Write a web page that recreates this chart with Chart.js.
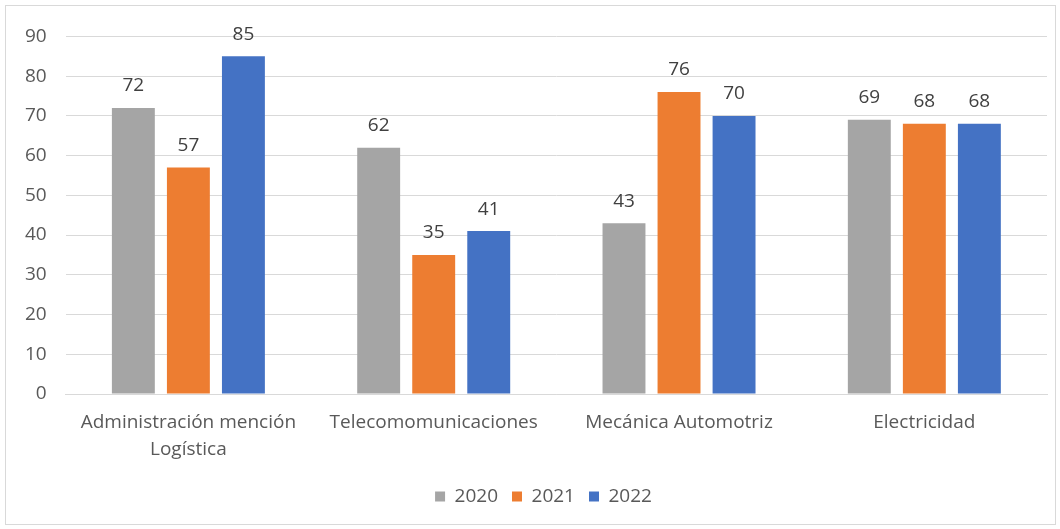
<!DOCTYPE html>
<html>
<head>
<meta charset="utf-8">
<script src="https://cdn.jsdelivr.net/npm/chart.js@4"></script>
<style>
  body { margin: 0; background: #fff; }
  #box { position: absolute; left: 5px; top: 5px; width: 1049px; height: 518px; border: 1px solid #d9d9d9; }
  #myChart { display: block; }
</style>
</head>
<body>
<div id="box"><canvas id="myChart" width="1049" height="518"></canvas></div>
<script>
const categories = [["Administración mención", "Logística"], "Telecomomunicaciones", "Mecánica Automotriz", "Electricidad"];
const values2020 = [72, 62, 43, 69];
const values2021 = [57, 35, 76, 68];
const values2022 = [85, 41, 70, 68];
const yTicks = [0, 10, 20, 30, 40, 50, 60, 70, 80, 90];

Chart.defaults.font.family = "'Open Sans', 'Liberation Sans', sans-serif";
Chart.defaults.font.size = 19;
Chart.defaults.color = "#595959";

// draws the value above each bar
var valueLabels = {
  id: 'valueLabels',
  afterDatasetsDraw: function(chart) {
    var c = chart.ctx;
    c.save();
    c.font = "19px 'Open Sans', 'Liberation Sans', sans-serif";
    c.fillStyle = "#404040";
    c.textAlign = 'center';
    c.textBaseline = 'middle';
    chart.data.datasets.forEach(function(ds, i) {
      chart.getDatasetMeta(i).data.forEach(function(bar, j) {
        c.fillText(ds.data[j], bar.x, bar.y - 22);
      });
    });
    c.restore();
  }
};

// legend sits a bit right of centre in the original
var legendShift = {
  id: 'legendShift',
  afterLayout: function(chart) {
    chart.legend.left += 17;
    chart.legend.right += 17;
  }
};

var ctx = document.getElementById('myChart').getContext('2d');
var chart = new Chart(ctx, {
  type: 'bar',
  data: {
    labels: categories,
    datasets: [
      { label: '2020', data: values2020, backgroundColor: '#a5a5a5' },
      { label: '2021', data: values2021, backgroundColor: '#ed7d31' },
      { label: '2022', data: values2022, backgroundColor: '#4472c4' }
    ]
  },
  options: {
    responsive: false,
    animation: false,
    layout: { padding: { left: 0, right: 8, top: 24, bottom: 8 } },
    datasets: { bar: { categoryPercentage: 0.673, barPercentage: 0.78 } },
    plugins: {
      legend: {
        position: 'bottom',
        labels: { boxWidth: 10, boxHeight: 10, padding: 14, font: { size: 19 }, color: '#595959' }
      },
      tooltip: { enabled: false }
    },
    scales: {
      x: {
        grid: { display: false },
        border: { color: '#d9d9d9' },
        afterFit: function(axis) { axis.height += 3; },
        ticks: { padding: 7, color: '#595959', maxRotation: 0, font: { size: 19, lineHeight: 1.42 } }
      },
      y: {
        min: 0,
        max: 90,
        afterBuildTicks: function(axis) { axis.ticks = yTicks.map(function(v) { return { value: v }; }); },
        grid: { color: '#d9d9d9', drawTicks: false },
        border: { display: false },
        ticks: { padding: 19, color: '#595959' }
      }
    }
  },
  plugins: [valueLabels, legendShift]
});
</script>
</body>
</html>
